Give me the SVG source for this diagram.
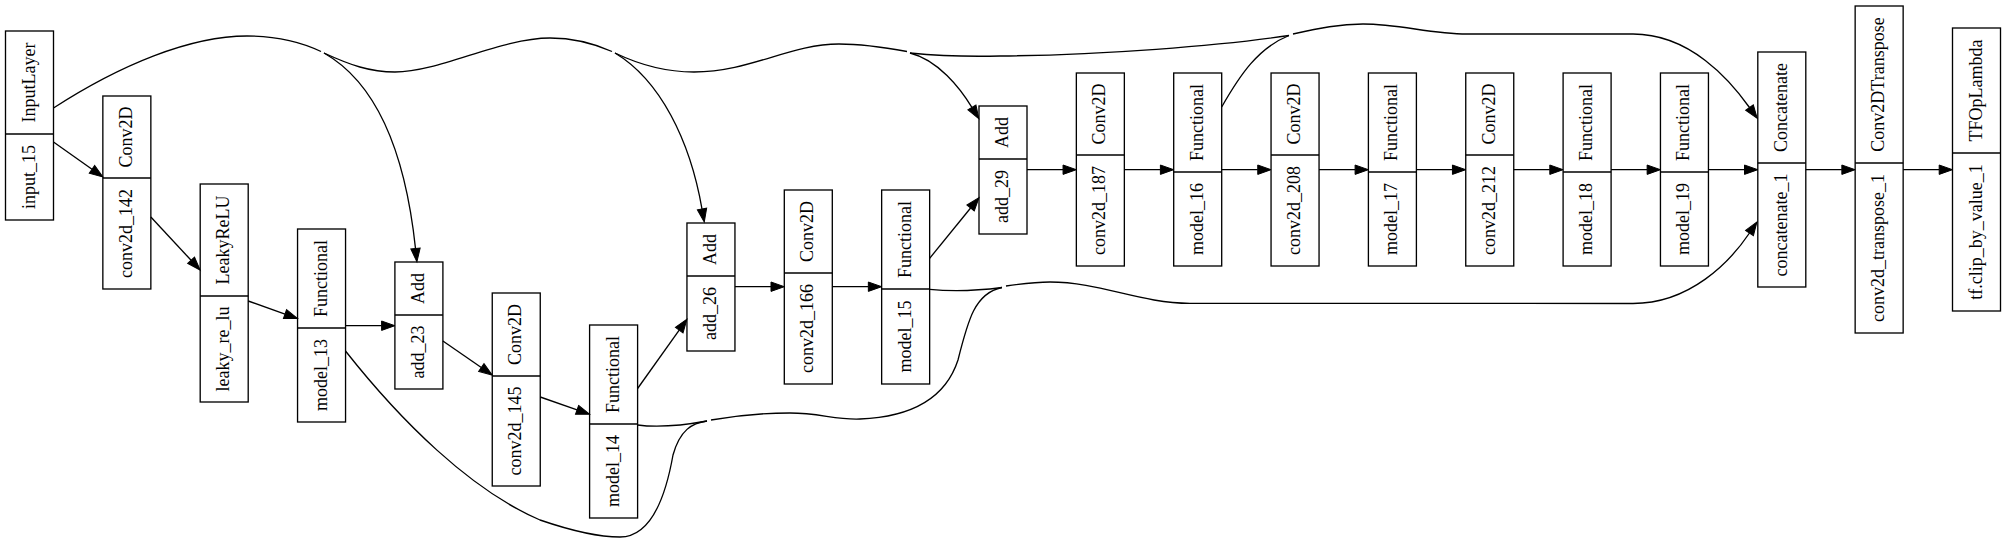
<svg xmlns="http://www.w3.org/2000/svg" width="2007" height="542" viewBox="0 0 2007 542">
<style>
.bg{fill:#ffffff}
.box{fill:none;stroke:#000;stroke-width:1.33}
.t{font-family:"Liberation Serif","Times New Roman",serif;font-size:18px;fill:#000;text-anchor:middle}
.e{fill:none;stroke:#000;stroke-width:1.33}
.a{fill:none;stroke:#000;stroke-width:1.33;marker-end:url(#ah)}
</style>
<defs>
<marker id="ah" markerUnits="userSpaceOnUse" viewBox="0 0 13.3 9.4" markerWidth="13.3" markerHeight="9.4" refX="0" refY="4.7" orient="auto" overflow="visible">
<path d="M0,0 L13.3,4.7 L0,9.4 Z" fill="#000" stroke="#000" stroke-width="1"/>
</marker>
</defs>
<rect class="bg" x="0" y="0" width="2007" height="542"/>

<g id="connectors">
<path class="a" d="M53.5,142 L92,169.3"/>
<path class="a" d="M150.85,217 L191.1,260.3"/>
<path class="a" d="M248.2,301 L285,314.1"/>
<path class="a" d="M345.55,325.7 L381.6,325.7"/>
<path class="a" d="M442.9,341 L481.3,367.5"/>
<path class="a" d="M540.25,397 L577.05,409.9"/>
<path class="a" d="M637.6,388.5 L679.2,330.1"/>
<path class="a" d="M734.95,286.7 L771,286.7"/>
<path class="a" d="M832.3,286.7 L868.35,286.7"/>
<path class="a" d="M929.65,258.3 L970.6,208"/>
<path class="a" d="M1027,169.7 L1063.05,169.7"/>
<path class="a" d="M1124.35,169.7 L1160.4,169.7"/>
<path class="a" d="M1221.7,169.7 L1257.75,169.7"/>
<path class="a" d="M1319.05,169.7 L1355.1,169.7"/>
<path class="a" d="M1416.4,169.7 L1452.45,169.7"/>
<path class="a" d="M1513.75,169.7 L1549.8,169.7"/>
<path class="a" d="M1611.1,169.7 L1647.15,169.7"/>
<path class="a" d="M1708.45,169.7 L1744.5,169.7"/>
<path class="a" d="M1805.8,169.7 L1841.85,169.7"/>
<path class="a" d="M1903.15,169.7 L1939.2,169.7"/>

<path class="e" d="M53.5,108 C120,65 190,36 247,36 C280,36 303,43 321,51.5"/>
<path class="a" d="M324,53 C375,82 405,150 415.5,248.5"/>
<path class="e" d="M324,53 C350,65 370,72 395,72 C440,72 500,38 550,38 C575,38 595,44 612,51.5"/>
<path class="a" d="M615,53 C660,80 690,140 702,209"/>
<path class="e" d="M615,53 C640,65 665,72 694,72 C750,72 790,44 839,44 C865,44 888,48 907,51.5"/>
<path class="a" d="M910,53 C938,60 960,88 971.9,107.4"/>
<path class="e" d="M910,53 C940,56 960,57 1000,56 C1100,55 1220,46 1289,35.5"/>
<path class="e" d="M1221.7,107 C1240,75 1258,48 1289,35.5"/>
<path class="a" d="M1293,34 C1320,28 1340,24 1363,24 C1400,24 1430,34 1467,34 L1633,34 C1690,34 1730,80 1749.5,107.5"/>

<path class="e" d="M345.5,351 C400,420 470,490 540,520 C575,532 600,537 620,537 C650,537 665,500 673,455 C680,430 692,423 707,421"/>
<path class="e" d="M637.6,425 C660,428 685,425 707,421"/>
<path class="e" d="M711,420 C740,415 765,413 790,413 C820,413 835,420 860,419 C910,417 945,400 958,360 C968,320 975,293 1002,287.5"/>
<path class="e" d="M929.7,289.3 C955,292 975,291 1002,287.5"/>
<path class="a" d="M1006,286 C1020,284 1035,282 1050,282 C1100,282 1140,303.3 1190,303.3 L1633,303.5 C1690,303.5 1730,262 1749.5,233"/>
</g>

<g id="node-input_15">
<rect class="box" x="5.5" y="31" width="48" height="189"/>
<line class="box" x1="5.5" y1="134" x2="53.5" y2="134"/>
<text class="t" transform="translate(29.5,82.5) rotate(-90)" y="5">InputLayer</text>
<text class="t" transform="translate(29.5,177) rotate(-90)" y="5">input_15</text>
</g>
<g id="node-conv2d_142">
<rect class="box" x="102.85" y="96" width="48" height="193"/>
<line class="box" x1="102.85" y1="178" x2="150.85" y2="178"/>
<text class="t" transform="translate(126.85,137) rotate(-90)" y="5">Conv2D</text>
<text class="t" transform="translate(126.85,233.5) rotate(-90)" y="5">conv2d_142</text>
</g>
<g id="node-leaky_re_lu">
<rect class="box" x="200.2" y="184" width="48" height="218"/>
<line class="box" x1="200.2" y1="296" x2="248.2" y2="296"/>
<text class="t" transform="translate(224.2,240) rotate(-90)" y="5">LeakyReLU</text>
<text class="t" transform="translate(224.2,349) rotate(-90)" y="5">leaky_re_lu</text>
</g>
<g id="node-model_13">
<rect class="box" x="297.55" y="229" width="48" height="193"/>
<line class="box" x1="297.55" y1="328" x2="345.55" y2="328"/>
<text class="t" transform="translate(321.55,278.5) rotate(-90)" y="5">Functional</text>
<text class="t" transform="translate(321.55,375) rotate(-90)" y="5">model_13</text>
</g>
<g id="node-add_23">
<rect class="box" x="394.9" y="262" width="48" height="127"/>
<line class="box" x1="394.9" y1="315" x2="442.9" y2="315"/>
<text class="t" transform="translate(418.9,288.5) rotate(-90)" y="5">Add</text>
<text class="t" transform="translate(418.9,352) rotate(-90)" y="5">add_23</text>
</g>
<g id="node-conv2d_145">
<rect class="box" x="492.25" y="293" width="48" height="193"/>
<line class="box" x1="492.25" y1="376" x2="540.25" y2="376"/>
<text class="t" transform="translate(516.25,334.5) rotate(-90)" y="5">Conv2D</text>
<text class="t" transform="translate(516.25,431) rotate(-90)" y="5">conv2d_145</text>
</g>
<g id="node-model_14">
<rect class="box" x="589.6" y="325" width="48" height="193"/>
<line class="box" x1="589.6" y1="424" x2="637.6" y2="424"/>
<text class="t" transform="translate(613.6,374.5) rotate(-90)" y="5">Functional</text>
<text class="t" transform="translate(613.6,471) rotate(-90)" y="5">model_14</text>
</g>
<g id="node-add_26">
<rect class="box" x="686.95" y="223" width="48" height="128"/>
<line class="box" x1="686.95" y1="276" x2="734.95" y2="276"/>
<text class="t" transform="translate(710.95,249.5) rotate(-90)" y="5">Add</text>
<text class="t" transform="translate(710.95,313.5) rotate(-90)" y="5">add_26</text>
</g>
<g id="node-conv2d_166">
<rect class="box" x="784.3" y="190" width="48" height="194"/>
<line class="box" x1="784.3" y1="273" x2="832.3" y2="273"/>
<text class="t" transform="translate(808.3,231.5) rotate(-90)" y="5">Conv2D</text>
<text class="t" transform="translate(808.3,328.5) rotate(-90)" y="5">conv2d_166</text>
</g>
<g id="node-model_15">
<rect class="box" x="881.65" y="190" width="48" height="194"/>
<line class="box" x1="881.65" y1="289" x2="929.65" y2="289"/>
<text class="t" transform="translate(905.65,239.5) rotate(-90)" y="5">Functional</text>
<text class="t" transform="translate(905.65,336.5) rotate(-90)" y="5">model_15</text>
</g>
<g id="node-add_29">
<rect class="box" x="979" y="106" width="48" height="128"/>
<line class="box" x1="979" y1="159" x2="1027" y2="159"/>
<text class="t" transform="translate(1003,132.5) rotate(-90)" y="5">Add</text>
<text class="t" transform="translate(1003,196.5) rotate(-90)" y="5">add_29</text>
</g>
<g id="node-conv2d_187">
<rect class="box" x="1076.35" y="73" width="48" height="193"/>
<line class="box" x1="1076.35" y1="155" x2="1124.35" y2="155"/>
<text class="t" transform="translate(1100.35,114) rotate(-90)" y="5">Conv2D</text>
<text class="t" transform="translate(1100.35,210.5) rotate(-90)" y="5">conv2d_187</text>
</g>
<g id="node-model_16">
<rect class="box" x="1173.7" y="73" width="48" height="193"/>
<line class="box" x1="1173.7" y1="172" x2="1221.7" y2="172"/>
<text class="t" transform="translate(1197.7,122.5) rotate(-90)" y="5">Functional</text>
<text class="t" transform="translate(1197.7,219) rotate(-90)" y="5">model_16</text>
</g>
<g id="node-conv2d_208">
<rect class="box" x="1271.05" y="73" width="48" height="193"/>
<line class="box" x1="1271.05" y1="155" x2="1319.05" y2="155"/>
<text class="t" transform="translate(1295.05,114) rotate(-90)" y="5">Conv2D</text>
<text class="t" transform="translate(1295.05,210.5) rotate(-90)" y="5">conv2d_208</text>
</g>
<g id="node-model_17">
<rect class="box" x="1368.4" y="73" width="48" height="193"/>
<line class="box" x1="1368.4" y1="172" x2="1416.4" y2="172"/>
<text class="t" transform="translate(1392.4,122.5) rotate(-90)" y="5">Functional</text>
<text class="t" transform="translate(1392.4,219) rotate(-90)" y="5">model_17</text>
</g>
<g id="node-conv2d_212">
<rect class="box" x="1465.75" y="73" width="48" height="193"/>
<line class="box" x1="1465.75" y1="155" x2="1513.75" y2="155"/>
<text class="t" transform="translate(1489.75,114) rotate(-90)" y="5">Conv2D</text>
<text class="t" transform="translate(1489.75,210.5) rotate(-90)" y="5">conv2d_212</text>
</g>
<g id="node-model_18">
<rect class="box" x="1563.1" y="73" width="48" height="193"/>
<line class="box" x1="1563.1" y1="172" x2="1611.1" y2="172"/>
<text class="t" transform="translate(1587.1,122.5) rotate(-90)" y="5">Functional</text>
<text class="t" transform="translate(1587.1,219) rotate(-90)" y="5">model_18</text>
</g>
<g id="node-model_19">
<rect class="box" x="1660.45" y="73" width="48" height="193"/>
<line class="box" x1="1660.45" y1="172" x2="1708.45" y2="172"/>
<text class="t" transform="translate(1684.45,122.5) rotate(-90)" y="5">Functional</text>
<text class="t" transform="translate(1684.45,219) rotate(-90)" y="5">model_19</text>
</g>
<g id="node-concatenate_1">
<rect class="box" x="1757.8" y="52" width="48" height="235"/>
<line class="box" x1="1757.8" y1="163" x2="1805.8" y2="163"/>
<text class="t" transform="translate(1781.8,107.5) rotate(-90)" y="5">Concatenate</text>
<text class="t" transform="translate(1781.8,225) rotate(-90)" y="5">concatenate_1</text>
</g>
<g id="node-conv2d_transpose_1">
<rect class="box" x="1855.15" y="6" width="48" height="327"/>
<line class="box" x1="1855.15" y1="163" x2="1903.15" y2="163"/>
<text class="t" transform="translate(1879.15,84.5) rotate(-90)" y="5">Conv2DTranspose</text>
<text class="t" transform="translate(1879.15,248) rotate(-90)" y="5">conv2d_transpose_1</text>
</g>
<g id="node-tf_clip_by_value_1">
<rect class="box" x="1952.5" y="28" width="48" height="283"/>
<line class="box" x1="1952.5" y1="153" x2="2000.5" y2="153"/>
<text class="t" transform="translate(1976.5,90.5) rotate(-90)" y="5">TFOpLambda</text>
<text class="t" transform="translate(1976.5,232) rotate(-90)" y="5">tf.clip_by_value_1</text>
</g>
</svg>
